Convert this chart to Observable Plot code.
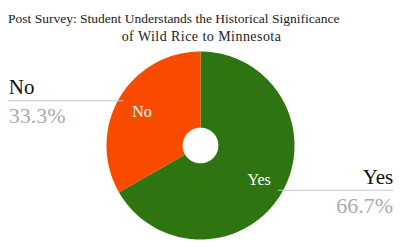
<!DOCTYPE html>
<html><head><meta charset="utf-8">
<script src="https://cdn.jsdelivr.net/npm/d3@7"></script>
<script src="https://cdn.jsdelivr.net/npm/@observablehq/plot@0.6"></script>
<style>
html,body{margin:0;padding:0;background:#fff}
svg{display:block}
#title{width:400px;height:46px;box-sizing:border-box;padding-top:10px;font-family:'Liberation Serif',serif;font-size:13.5px;line-height:18px;color:#222;white-space:nowrap}
#t1{padding-left:8px}
#t2{text-align:center;font-size:14px;letter-spacing:0.45px;padding-left:3px}
#chart svg text{font-family:'Liberation Serif',serif}
</style>
</head><body>
<div id="title"><div id="t1"></div><div id="t2"></div></div>
<div id="chart"></div>
<script>
// ---- data ----
const categories = ["Yes", "No"];
const values = [66.7, 33.3];
const percentLabels = ["66.7%", "33.3%"];
const colors = ["#2e7512", "#f94b00"];
const titleLines = ["Post Survey: Student Understands the Historical Significance", "of Wild Rice to Minnesota"];

document.getElementById("t1").textContent = titleLines[0];
document.getElementById("t2").textContent = titleLines[1];

// ---- layout ----
const W = 400, H = 204;
const R = 94, cx = 200, cy = 99;
const hole = 0.19;
const insideR = 0.72, anchorR = 0.95, edgeX = 2.05;
const serif = "Liberation Serif";

const rows = categories.map((c, i) => ({category: c, value: values[i], pct: percentLabels[i]}));
const arcs = d3.pie().sort(null).value(d => d.value)(rows).map(p => {
  const mid = (p.startAngle + p.endAngle) / 2;
  const ax = anchorR * Math.sin(mid), ay = anchorR * Math.cos(mid);
  return {...p, category: p.data.category, pct: p.data.pct, mid,
    ix: insideR * Math.sin(mid), iy: insideR * Math.cos(mid),
    ax, ay, ex: Math.sign(ax) * edgeX, left: ax < 0};
});

const slicePts = arcs.flatMap(p => {
  const n = 120;
  const angles = d3.range(n + 1).map(k => p.startAngle + (p.endAngle - p.startAngle) * k / n);
  const outer = angles.map(a => ({category: p.category, x: Math.sin(a), y: Math.cos(a)}));
  const inner = angles.slice().reverse().map(a => ({category: p.category, x: hole * Math.sin(a), y: hole * Math.cos(a)}));
  return outer.concat(inner);
});

const chart = Plot.plot({
  width: W, height: H,
  margin: 0,
  x: {domain: [-cx / R, (W - cx) / R], range: [0, W], axis: null},
  y: {domain: [-(H - cy) / R, cy / R], range: [H, 0], axis: null},
  color: {domain: categories, range: colors},
  marks: [
    Plot.line(slicePts, {x: "x", y: "y", z: "category", fill: "category", stroke: "none"}),
    Plot.text(arcs, {x: "ix", y: "iy", text: "category", fill: "white", fontSize: 16, fontFamily: serif}),
    Plot.link(arcs, {x1: "ax", y1: "ay", x2: "ex", y2: "ay", stroke: "#c4c4c4", strokeWidth: 1}),
    Plot.text(arcs.filter(d => d.left), {x: "ex", y: "ay", text: "category", textAnchor: "start", lineAnchor: "bottom", dx: 1, dy: -7, fontSize: 21, fill: "#111", fontFamily: serif}),
    Plot.text(arcs.filter(d => d.left), {x: "ex", y: "ay", text: "pct", textAnchor: "start", lineAnchor: "bottom", dx: 1, dy: 22, fontSize: 22, fill: "#ababab", fontFamily: serif}),
    Plot.text(arcs.filter(d => !d.left), {x: "ex", y: "ay", text: "category", textAnchor: "end", lineAnchor: "bottom", dy: -6, fontSize: 21, fill: "#111", fontFamily: serif}),
    Plot.text(arcs.filter(d => !d.left), {x: "ex", y: "ay", text: "pct", textAnchor: "end", lineAnchor: "bottom", dy: 23, fontSize: 22, fill: "#ababab", fontFamily: serif})
  ]
});
document.getElementById("chart").append(chart);
</script>
</body></html>
